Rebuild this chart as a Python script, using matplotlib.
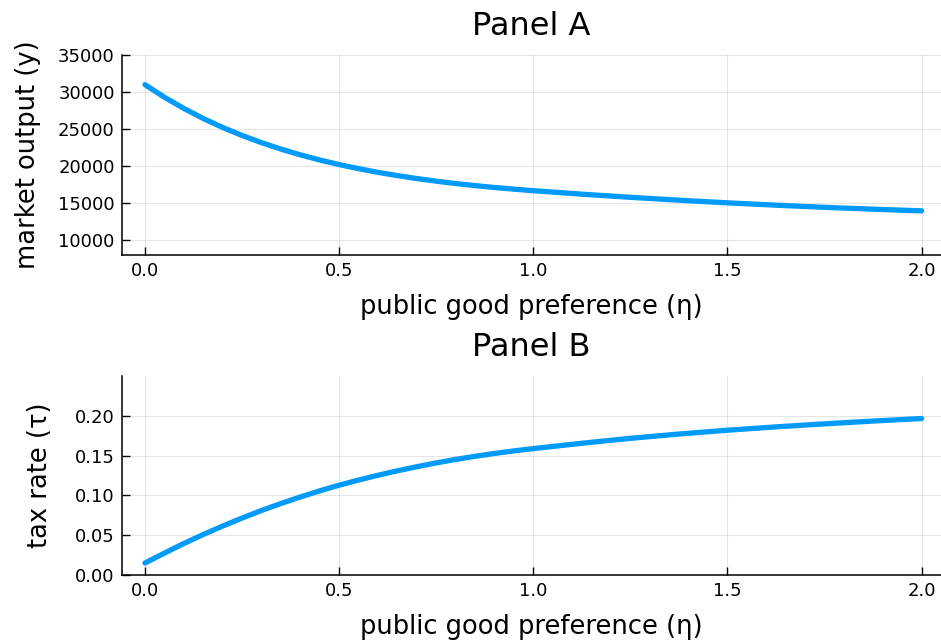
import matplotlib
matplotlib.use("Agg")
import matplotlib.pyplot as plt
from matplotlib.ticker import FormatStrFormatter

plt.rcParams["font.family"] = ["DejaVu Sans"]

# ── data ────────────────────────────────────────────────────
eta = [0.00, 0.05, 0.10, 0.15, 0.20, 0.25, 0.30, 0.35, 0.40, 0.45, 0.50,
       0.55, 0.60, 0.65, 0.70, 0.75, 0.80, 0.85, 0.90, 0.95, 1.00,
       1.125, 1.25, 1.375, 1.50, 1.625, 1.75, 1.875, 2.00]
output_y = [31000, 29300, 27790, 26430, 25220, 24140, 23170, 22300, 21525, 20830, 20210,
            19660, 19160, 18720, 18320, 17970, 17650, 17370, 17115, 16890, 16680,
            16215, 15790, 15400, 15045, 14725, 14435, 14185, 13960]
tax_tau = [0.0150, 0.0275, 0.0395, 0.0508, 0.0615, 0.0715, 0.0810, 0.0898, 0.0980, 0.1057, 0.1128,
           0.1193, 0.1253, 0.1309, 0.1360, 0.1408, 0.1452, 0.1491, 0.1527, 0.1559, 0.1588,
           0.1655, 0.1717, 0.1771, 0.1819, 0.1861, 0.1899, 0.1934, 0.1966]

y_ticks_a = [10000, 15000, 20000, 25000, 30000, 35000]
y_ticks_b = [0.00, 0.05, 0.10, 0.15, 0.20]
x_ticks = [0.0, 0.5, 1.0, 1.5, 2.0]

BLUE = "#009AFA"

fig = plt.figure(figsize=(9.41, 6.42), dpi=100)
ax_a = fig.add_axes([0.1293, 0.6028, 0.8707, 0.3115])
ax_b = fig.add_axes([0.1293, 0.1044, 0.8707, 0.3099])


def style(ax, title, ylabel, ypad):
    ax.set_title(title, fontsize=23, pad=14.5)
    ax.set_xlabel("public good preference (η)", fontsize=18.5, labelpad=10)
    ax.set_ylabel(ylabel, fontsize=18.5, labelpad=ypad)
    ax.set_xlim(-0.06, 2.05)
    ax.set_xticks(x_ticks)
    ax.xaxis.set_major_formatter(FormatStrFormatter("%.1f"))
    ax.tick_params(direction="in", length=6, width=1, labelsize=13, pad=5)
    ax.grid(True, color="black", alpha=0.1, linewidth=0.8)
    ax.set_axisbelow(True)
    for s in ["top", "right"]:
        ax.spines[s].set_visible(False)
    for s in ["left", "bottom"]:
        ax.spines[s].set_linewidth(1.1)


ax_a.plot(eta, output_y, color=BLUE, linewidth=3.8, solid_capstyle="round")
style(ax_a, "Panel A", "market output (y)", 12)
ax_a.set_ylim(8000, 35000)
ax_a.set_yticks(y_ticks_a)

ax_b.plot(eta, tax_tau, color=BLUE, linewidth=3.8, solid_capstyle="round")
style(ax_b, "Panel B", "tax rate (τ)", 16)
ax_b.set_ylim(0, 0.25)
ax_b.set_yticks(y_ticks_b)
ax_b.yaxis.set_major_formatter(FormatStrFormatter("%.2f"))

fig.savefig("out.png", dpi=100)
